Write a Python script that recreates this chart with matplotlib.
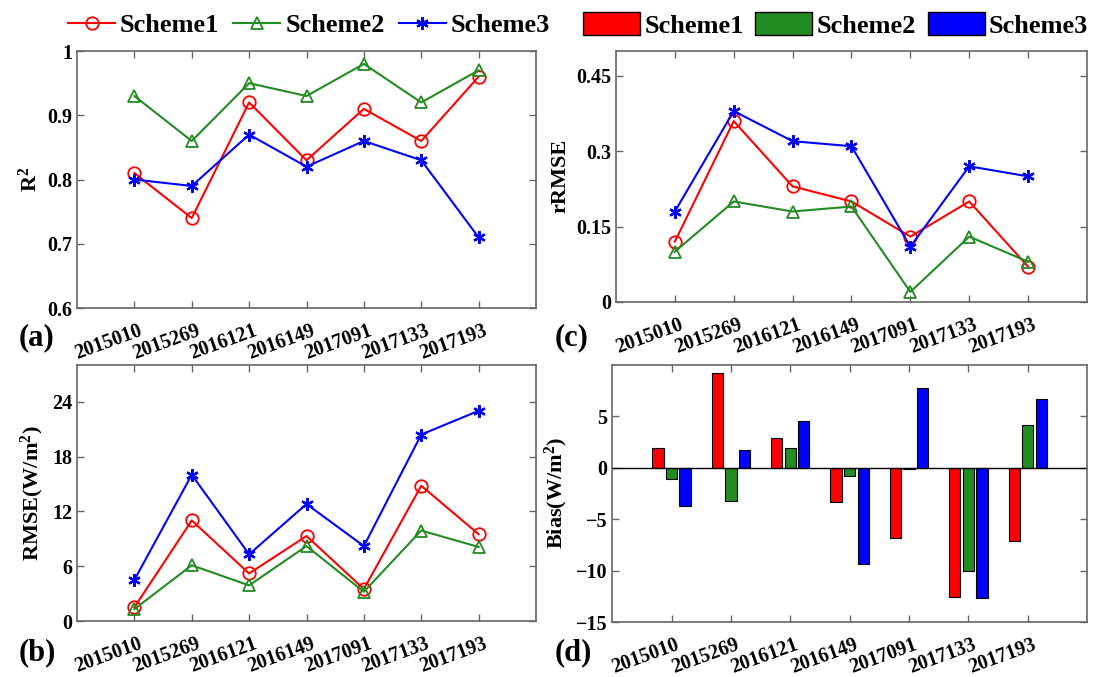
import numpy as np
import matplotlib
matplotlib.use("Agg")
from matplotlib import pyplot as plt
from matplotlib import transforms
from matplotlib.lines import Line2D
from matplotlib.patches import Patch

dates = ["2015010", "2015269", "2016121", "2016149", "2017091", "2017133", "2017193"]

r2_s1 = [0.81, 0.74, 0.92, 0.83, 0.91, 0.86, 0.96]
r2_s2 = [0.93, 0.86, 0.95, 0.93, 0.98, 0.92, 0.97]
r2_s3 = [0.80, 0.79, 0.87, 0.82, 0.86, 0.83, 0.71]

rrmse_s1 = [0.12, 0.36, 0.23, 0.20, 0.13, 0.20, 0.07]
rrmse_s2 = [0.10, 0.20, 0.18, 0.19, 0.02, 0.13, 0.08]
rrmse_s3 = [0.18, 0.38, 0.32, 0.31, 0.11, 0.27, 0.25]

rmse_s1 = [1.5, 11.0, 5.2, 9.3, 3.5, 14.8, 9.5]
rmse_s2 = [1.3, 6.1, 3.9, 8.2, 3.2, 9.9, 8.1]
rmse_s3 = [4.5, 16.0, 7.3, 12.8, 8.2, 20.4, 23.0]

bias_s1 = [1.9, 9.2, 2.9, -3.3, -6.8, -12.6, -7.1]
bias_s2 = [-1.1, -3.2, 1.9, -0.8, -0.1, -10.0, 4.1]
bias_s3 = [-3.7, 1.7, 4.5, -9.4, 7.7, -12.7, 6.7]

RED = "#ff0000"
GREEN = "#228b22"
BLUE = "#0000ff"
STAR = (6, 2, 0)  # asterisk like matlab '*'
FRAME = "#666666"

plt.rcParams["font.family"] = ["Liberation Serif", "DejaVu Serif"]
plt.rcParams["font.weight"] = "bold"
plt.rcParams["axes.labelweight"] = "bold"
plt.rcParams["mathtext.fontset"] = "custom"
plt.rcParams["mathtext.rm"] = "Liberation Serif:bold"
plt.rcParams["mathtext.bf"] = "Liberation Serif:bold"
plt.rcParams["mathtext.default"] = "bf"

fig = plt.figure(figsize=(10.97, 6.77), dpi=100)

ax_a = fig.add_axes([0.0702, 0.545, 0.4184, 0.3796])
ax_c = fig.add_axes([0.5615, 0.554, 0.4294, 0.371])
ax_b = fig.add_axes([0.0702, 0.0827, 0.4184, 0.378])
ax_d = fig.add_axes([0.558, 0.0812, 0.433, 0.380])

x = np.arange(1, len(dates) + 1)
shift = transforms.ScaledTranslation(4 / 100, 0, fig.dpi_scale_trans)


def style(ax):
    ax.set_xlim(0, 8)
    ax.set_xticks(x)
    ax.set_xticklabels(dates, rotation=20, ha="right", va="top",
                       rotation_mode="anchor", fontsize=14.5, fontweight="bold")
    ax.tick_params(direction="in", top=True, right=True, length=5, width=1,
                   color=FRAME, labelsize=14.5)
    ax.tick_params(axis="x", pad=9)
    for lab in ax.get_xticklabels():
        lab.set_transform(lab.get_transform() + shift)
    for lab in ax.get_yticklabels():
        lab.set_fontweight("bold")
    for sp in ax.spines.values():
        sp.set_color(FRAME)
        sp.set_linewidth(1.2)


def lines(ax, s1, s2, s3):
    ax.plot(x, s1, color=RED, marker="o", mfc="none", ms=9, mew=1.3, lw=1.5)
    ax.plot(x, s2, color=GREEN, marker="^", mfc="none", ms=9, mew=1.3, lw=1.5)
    ax.plot(x, s3, color=BLUE, marker=STAR, ms=9, mew=1.6, lw=1.5)


lines(ax_a, r2_s1, r2_s2, r2_s3)
style(ax_a)
ax_a.set_ylim(0.6, 1.0)
ax_a.set_yticks([0.6, 0.7, 0.8, 0.9, 1.0])
ax_a.set_yticklabels(["0.6", "0.7", "0.8", "0.9", "1"])
ax_a.set_ylabel("R$^{2}$", fontsize=16)

lines(ax_c, rrmse_s1, rrmse_s2, rrmse_s3)
style(ax_c)
ax_c.set_ylim(0, 0.5)
ax_c.set_yticks([0, 0.15, 0.3, 0.45])
ax_c.set_yticklabels(["0", "0.15", "0.3", "0.45"])
ax_c.set_ylabel("rRMSE", fontsize=16)

lines(ax_b, rmse_s1, rmse_s2, rmse_s3)
style(ax_b)
ax_b.set_ylim(0, 28)
ax_b.set_yticks([0, 6, 12, 18, 24])
ax_b.set_ylabel("RMSE(W/m$^{2}$)", fontsize=16)

w = 0.19
off = 0.229
ax_d.bar(x - off, bias_s1, w, color=RED, edgecolor="black", lw=0.8)
ax_d.bar(x, bias_s2, w, color=GREEN, edgecolor="black", lw=0.8)
ax_d.bar(x + off, bias_s3, w, color=BLUE, edgecolor="black", lw=0.8)
ax_d.axhline(0, color="black", lw=1)
style(ax_d)
ax_d.set_ylim(-15, 10)
ax_d.set_yticks([-15, -10, -5, 0, 5])
ax_d.set_ylabel("Bias(W/m$^{2}$)", fontsize=16)

fs_panel = 22
fig.text(0.017, 0.49, "(a)", fontsize=fs_panel, fontweight="bold")
fig.text(0.017, 0.025, "(b)", fontsize=fs_panel, fontweight="bold")
fig.text(0.506, 0.49, "(c)", fontsize=fs_panel, fontweight="bold")
fig.text(0.506, 0.025, "(d)", fontsize=fs_panel, fontweight="bold")

line_handles = [
    Line2D([], [], color=RED, marker="o", mfc="none", ms=9, mew=1.3, lw=1.5),
    Line2D([], [], color=GREEN, marker="^", mfc="none", ms=9, mew=1.3, lw=1.5),
    Line2D([], [], color=BLUE, marker=STAR, ms=9, mew=1.6, lw=1.5),
]
fig.legend(line_handles, ["Scheme1", "Scheme2", "Scheme3"], loc="center",
           bbox_to_anchor=(0.2817, 0.963), ncol=3, frameon=False,
           prop={"size": 19, "weight": "bold"}, handlelength=1.78,
           handletextpad=0.19, columnspacing=0.53, borderpad=0.1)

bar_handles = [
    Patch(facecolor=RED, edgecolor="black"),
    Patch(facecolor=GREEN, edgecolor="black"),
    Patch(facecolor=BLUE, edgecolor="black"),
]
fig.legend(bar_handles, ["Scheme1", "Scheme2", "Scheme3"], loc="center",
           bbox_to_anchor=(0.7617, 0.963), ncol=3, frameon=False,
           prop={"size": 19, "weight": "bold"}, handlelength=2.16,
           handleheight=0.95, handletextpad=0.15, columnspacing=0.45,
           borderpad=0.1)

fig.savefig("out.png", dpi=100)
